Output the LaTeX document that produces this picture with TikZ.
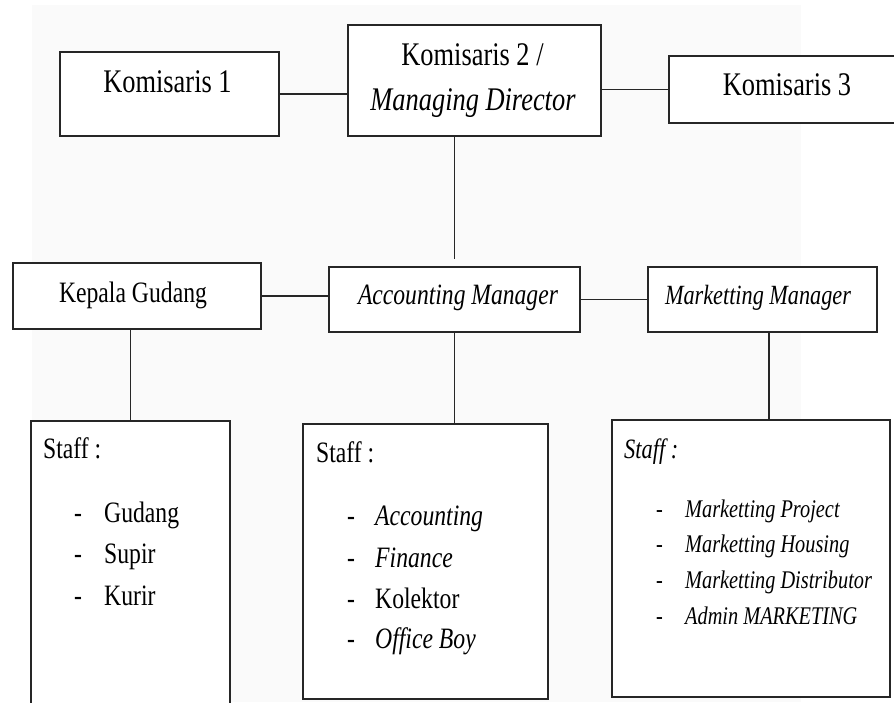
\documentclass[tikz,border=0pt]{standalone}
\usepackage{fontspec}
\setmainfont{Liberation Serif}[FakeStretch=0.8]
\begin{document}
\begin{tikzpicture}[x=1pt,y=-1pt,
  box/.style={draw=black!85,line width=1.2pt,fill=white,inner sep=0pt,rectangle},
  conn/.style={draw=black!85,line width=1.2pt},
  lbl/.style={inner sep=0pt,anchor=base,text=black},
  lw/.style={inner sep=0pt,anchor=base west,text=black},
  big/.style={font=\fontsize{33}{38}\selectfont},
  mid/.style={font=\fontsize{29.6}{34}\selectfont},
  small/.style={font=\fontsize{25.4}{30}\selectfont\itshape}]
\useasboundingbox (0,0) rectangle (894,702);
\clip (0,0) rectangle (894,702);
\fill[black!2] (32,5) rectangle (801,702);
% boxes
\node[box,minimum width=219,minimum height=84] (k1) at (169.5,94) {};
\node[box,minimum width=253,minimum height=111] (k2) at (474.5,80.5) {};
\node[box,minimum width=241,minimum height=67] (k3) at (789.5,89.5) {};
\node[box,minimum width=248,minimum height=66] (kg) at (137,296) {};
\node[box,minimum width=251,minimum height=65] (am) at (454.5,299.5) {};
\node[box,minimum width=229,minimum height=65] (mm) at (762.5,299.5) {};
\node[box,minimum width=199,minimum height=299] (s1) at (130.5,570.5) {};
\node[box,minimum width=245,minimum height=275] (s2) at (425.5,561.5) {};
\node[box,minimum width=278,minimum height=277] (s3) at (751,558.5) {};
% connectors
\draw[conn] (k1.east) -- (k1.east -| k2.west);
\draw[conn] (k2.east |- k3.west) -- (k3.west);
\coordinate (amtop) at ([yshift=7pt]am.north);
\draw[conn] (k2.south -| amtop) -- (amtop);
\draw[conn] (kg.east) -- (kg.east -| am.west);
\draw[conn] (am.east) -- (mm.west);
\draw[conn] (s1.north) -- (s1.north |- kg.south);
\draw[conn] (am.south) -- (am.south |- s2.north);
\coordinate (mmdrop) at ([xshift=6.5pt]mm.south);
\draw[conn] (mmdrop) -- (mmdrop |- s3.north);
% top labels
\node[lbl,big] (t1) at (167.5,92) {Komisaris 1};
\node[lbl,big] (t2a) at (472.5,65) {Komisaris 2 /};
\node[lbl,big,font=\fontsize{33}{38}\selectfont\itshape] (t2b) at (473,110) {Managing Director};
\node[lbl,big] (t3) at (787,95) {Komisaris 3};
\node[lbl,mid] (tkg) at (133,302) {Kepala Gudang};
\node[lbl,mid,font=\fontsize{29.5}{34}\selectfont\itshape] (tam) at (458,304) {Accounting Manager};
\node[lbl,font=\fontsize{27.8}{32}\selectfont\itshape] (tmm) at (758,304) {Marketting Manager};
% left staff
\node[lw,mid] (l0) at (43,458) {Staff :};
\node[lw,mid] (l1d) at (74,522) {-};
\node[lw,mid] (l1) at (104,522) {Gudang};
\node[lw,mid] (l2d) at (74,563) {-};
\node[lw,mid] (l2) at (104,563) {Supir};
\node[lw,mid] (l3d) at (74,605) {-};
\node[lw,mid] (l3) at (104,605) {Kurir};
% middle staff
\node[lw,mid] (m0) at (316,462) {Staff :};
\node[lw,mid] (m1d) at (347,525) {-};
\node[lw,mid,font=\fontsize{29.6}{34}\selectfont\itshape] (m1) at (375,525) {Accounting};
\node[lw,mid] (m2d) at (347,567) {-};
\node[lw,mid,font=\fontsize{29.6}{34}\selectfont\itshape] (m2) at (375,567) {Finance};
\node[lw,mid] (m3d) at (347,608) {-};
\node[lw,mid] (m3) at (375,608) {Kolektor};
\node[lw,mid] (m4d) at (347,648) {-};
\node[lw,mid,font=\fontsize{29.6}{34}\selectfont\itshape] (m4) at (375,648) {Office Boy};
% right staff
\node[lw,font=\fontsize{28}{32}\selectfont\itshape] (r0) at (624,458) {Staff :};
\node[lw,small] (r1d) at (656,517) {-};
\node[lw,small] (r1) at (685,517) {Marketting Project};
\node[lw,small] (r2d) at (656,552) {-};
\node[lw,small] (r2) at (685,552) {Marketting Housing};
\node[lw,small] (r3d) at (656,588) {-};
\node[lw,small] (r3) at (685,588) {Marketting Distributor};
\node[lw,small] (r4d) at (656,624) {-};
\node[lw,small] (r4) at (685,624) {Admin MARKETING};
\end{tikzpicture}
\end{document}
